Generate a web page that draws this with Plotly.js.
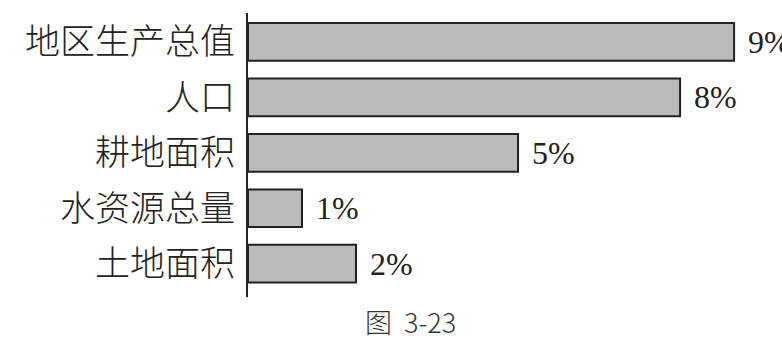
<!DOCTYPE html>
<html>
<head>
<meta charset="utf-8">
<script src="https://cdn.plot.ly/plotly-3.0.1.min.js"></script>
<style>
  html, body { margin: 0; padding: 0; background: #ffffff; }
  #chart { width: 782px; height: 343px; }
</style>
</head>
<body>
<div id="chart"></div>
<script>
// Categories listed top to bottom, with their percentage shares
const categories = ['地区生产总值', '人口', '耕地面积', '水资源总量', '土地面积'];
const shares = [9, 8, 5, 1, 2];
const caption = '图  3-23';

const ink = '#222222';
const serifFont = 'Liberation Serif, "Noto Sans CJK SC", serif';
const cjkFont = '"Noto Sans CJK SC", sans-serif';

const barTrace = {
  type: 'bar',
  orientation: 'h',
  x: shares,
  y: categories,
  width: 0.68,
  marker: {
    color: '#bababa',
    line: { color: ink, width: 2 }
  },
  hoverinfo: 'skip'
};

// Percent labels sit just to the right of each bar end
const valueLabels = categories.map((c, i) => ({
  x: shares[i],
  y: c,
  xref: 'x',
  yref: 'y',
  text: shares[i] + '%',
  showarrow: false,
  xanchor: 'left',
  yanchor: 'middle',
  xshift: 12,
  font: { family: serifFont, size: 32, color: ink }
}));

const captionNote = {
  xref: 'paper',
  yref: 'paper',
  x: 0.305,
  y: -0.085,
  text: caption,
  showarrow: false,
  xanchor: 'center',
  yanchor: 'middle',
  font: { family: cjkFont, size: 27, color: '#333333', weight: 300 }
};

const layout = {
  width: 782,
  height: 343,
  margin: { l: 248, r: 2, t: 13, b: 46, pad: 0 },
  paper_bgcolor: '#ffffff',
  plot_bgcolor: '#ffffff',
  showlegend: false,
  xaxis: {
    range: [0, 9.85],
    showgrid: false,
    zeroline: false,
    showline: false,
    showticklabels: false,
    ticks: ''
  },
  yaxis: {
    type: 'category',
    range: [4.6, -0.52],
    showgrid: false,
    zeroline: false,
    showline: true,
    linecolor: ink,
    linewidth: 2,
    ticks: '',
    ticklabelstandoff: 4,
    tickfont: { family: cjkFont, size: 35, color: ink, weight: 300 }
  },
  annotations: valueLabels.concat([captionNote])
};

Plotly.newPlot('chart', [barTrace], layout, { staticPlot: true, displayModeBar: false });
</script>
</body>
</html>
